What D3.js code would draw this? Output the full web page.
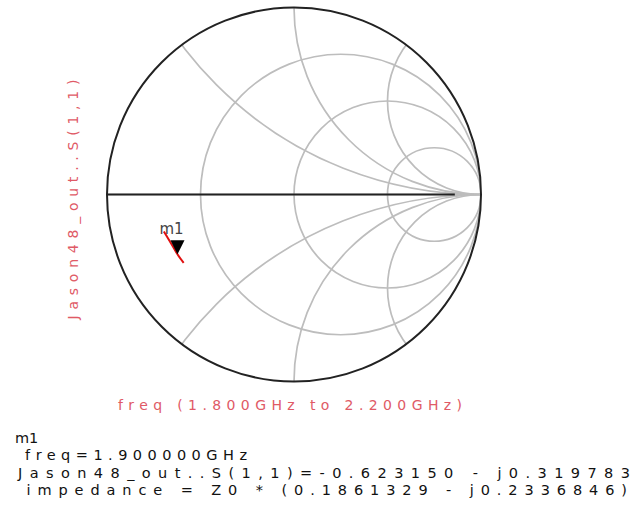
<!DOCTYPE html>
<html>
<head>
<meta charset="utf-8">
<script src="https://cdn.jsdelivr.net/npm/d3@7"></script>
<style>
  body { margin: 0; background: #fff; }
  text { font-family: 'DejaVu Sans', sans-serif; }
</style>
</head>
<body>
<svg id="smith" width="644" height="510"></svg>
<script>
// S(1,1) trace, 1.8 GHz -> 2.2 GHz
const freqGHz = [1.8, 1.9, 2.0, 2.1, 2.2];
const s11Re = [-0.590, -0.623150, -0.650, -0.674, -0.696];
const s11Im = [-0.366, -0.319783, -0.274, -0.234, -0.198];

// grid values
const rCircles = [1 / 3, 1, 3];
const xArcs = [0.5, 1, 2, -0.5, -1, -2];

// marker
const markerName = 'm1';
const markerIndex = 1;
const readout = [
  'm1',
  ' freq=1.900000GHz',
  'Jason48_out..S(1,1)=-0.623150 - j0.319783',
  ' impedance = Z0 * (0.1861329 - j0.2336846)'
];
const yLabel = 'Jason48_out..S(1,1)';
const xLabel = 'freq (1.800GHz to 2.200GHz)';

const svg = d3.select('#smith');
const cx = 294, cy = 194.5, R = 187;

const x = d3.scaleLinear().domain([-1, 1]).range([cx - R, cx + R]);
const y = d3.scaleLinear().domain([-1, 1]).range([cy + R, cy - R]);
const k = R; // pixels per unit of gamma

svg.append('clipPath').attr('id', 'unit')
  .append('circle').attr('cx', x(0)).attr('cy', y(0)).attr('r', k);

const grid = svg.append('g').attr('clip-path', 'url(#unit)')
  .attr('fill', 'none').attr('stroke', '#bdbdbd').attr('stroke-width', 1.7);

// real axis
grid.append('line')
  .attr('x1', x(-1)).attr('x2', x(1)).attr('y1', y(0)).attr('y2', y(0));

grid.selectAll('.rc')
  .data(rCircles)
  .enter().append('circle')
    .attr('class', 'rc')
    .attr('cx', function(d) { return x(d / (d + 1)); })
    .attr('cy', y(0))
    .attr('r', function(d) { return k / (d + 1); });

grid.selectAll('.xa')
  .data(xArcs)
  .enter().append('circle')
    .attr('class', 'xa')
    .attr('cx', x(1))
    .attr('cy', function(d) { return y(1 / d); })
    .attr('r', function(d) { return k / Math.abs(d); });

svg.append('line')
  .attr('x1', x(-1)).attr('x2', x(0.86)).attr('y1', y(0)).attr('y2', y(0))
  .attr('stroke', '#222').attr('stroke-width', 2);

svg.append('circle')
  .attr('cx', x(0)).attr('cy', y(0)).attr('r', k)
  .attr('fill', 'none').attr('stroke', '#222').attr('stroke-width', 2);

// trace
const pts = freqGHz.map(function(f, i) { return [s11Re[i], s11Im[i]]; });
const line = d3.line()
  .x(function(d) { return x(d[0]); })
  .y(function(d) { return y(d[1]); })
  .curve(d3.curveCatmullRom);

svg.append('path')
  .datum(pts)
  .attr('d', line)
  .attr('fill', 'none').attr('stroke', '#e01010').attr('stroke-width', 2);

// marker triangle, tip on the point
const mx = x(s11Re[markerIndex]), my = y(s11Im[markerIndex]);
svg.append('path')
  .attr('d', 'M' + mx + ',' + my + 'l-7,-14l14,0z')
  .attr('fill', '#000');
svg.append('text')
  .attr('x', mx - 18).attr('y', my - 20)
  .attr('font-size', 15).attr('fill', '#444')
  .text(markerName);

// axis labels
svg.append('text')
  .attr('transform', 'translate(78,' + (cy + 5) + ') rotate(-90)')
  .attr('text-anchor', 'middle')
  .attr('font-size', 14).attr('fill', '#e05a66')
  .attr('textLength', 240).attr('lengthAdjust', 'spacing')
  .text(yLabel);

svg.append('text')
  .attr('x', 290).attr('y', 410)
  .attr('text-anchor', 'middle')
  .attr('font-size', 14).attr('fill', '#e05a66')
  .attr('textLength', 344).attr('lengthAdjust', 'spacing')
  .text(xLabel);

// marker readout
const lens = [null, 232, 612, 612];
svg.selectAll('.readout')
  .data(readout)
  .enter().append('text')
    .attr('class', 'readout')
    .attr('x', function(d, i) { return i === 2 ? 18 : 15; })
    .attr('y', function(d, i) { return 443 + i * 17.3; })
    .attr('font-size', 14.5).attr('fill', '#111')
    .attr('xml:space', 'preserve')
    .style('white-space', 'pre')
    .each(function(d, i) {
      if (lens[i]) d3.select(this).attr('textLength', lens[i]).attr('lengthAdjust', 'spacing');
    })
    .text(function(d) { return d; });
</script>
</body>
</html>
